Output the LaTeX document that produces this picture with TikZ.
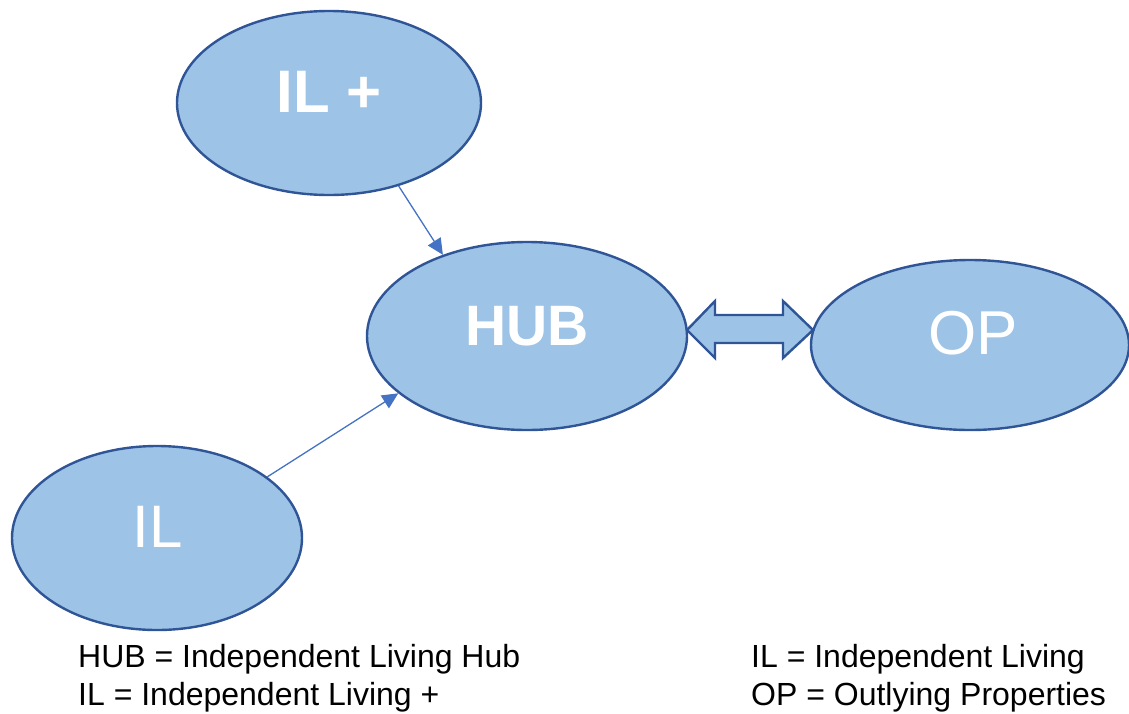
\documentclass[tikz,border=0pt]{standalone}
\usepackage{fontspec}
\setmainfont{Liberation Sans}
\usetikzlibrary{shapes.geometric,arrows.meta}
\definecolor{ellfill}{HTML}{9DC3E6}
\definecolor{elldraw}{HTML}{2F5597}
\definecolor{arrblue}{HTML}{4472C4}
\begin{document}
\begin{tikzpicture}[x=1pt,y=-1pt,
  bubble/.style={ellipse,draw=elldraw,fill=ellfill,line width=2.4pt,inner sep=0pt},
  bigtxt/.style={text=white,font=\fontsize{60}{60}\selectfont,inner sep=0pt},
  boldtxt/.style={text=white,font=\fontsize{57}{57}\selectfont\bfseries,inner sep=0pt},
  legend/.style={anchor=base west,font=\fontsize{32}{34}\selectfont,inner sep=0pt},
  link/.style={draw=arrblue,line width=1.3pt,-{Triangle[length=16pt,width=15pt]}}]
\useasboundingbox (0,0) rectangle (1129,713);
\node[bubble,minimum width=304pt,minimum height=184pt] (ilp) at (329,103) {};
\node[bubble,minimum width=320pt,minimum height=188pt] (hub) at (527,336) {};
\node[bubble,minimum width=318pt,minimum height=170pt] (op) at (970,345) {};
\node[bubble,minimum width=290pt,minimum height=184pt] (il) at (157,538) {};
\node[boldtxt,font=\fontsize{60}{60}\selectfont\bfseries] (ilpt) at (329.5,92) {IL +};
\node[boldtxt] (hubt) at (527,326) {HUB};
\node[bigtxt,font=\fontsize{62}{62}\selectfont] (opt) at (973,333) {OP};
\node[bigtxt] (ilt) at (158,527) {IL};
\draw[link] (ilp.-50.3) -- (hub.136.7);
\draw[link] (il.29.9) -- (hub.204.5);
\coordinate (lt) at (687,330);
\coordinate (rt) at (813,330);
\draw[draw=elldraw,fill=ellfill,line width=2.4pt,line join=miter]
  (lt) -- (715,301) -- (715,315) -- (783,315) -- (783,301) -- (rt)
  -- (783,358) -- (783,343) -- (715,343) -- (715,358) -- cycle;
\node[legend] (l1) at (78,667) {HUB = Independent Living Hub};
\node[legend] (l2) at (78,705) {IL = Independent Living +};
\node[legend] (l3) at (751,667) {IL = Independent Living};
\node[legend] (l4) at (751,705) {OP = Outlying Properties};
\end{tikzpicture}
\end{document}
